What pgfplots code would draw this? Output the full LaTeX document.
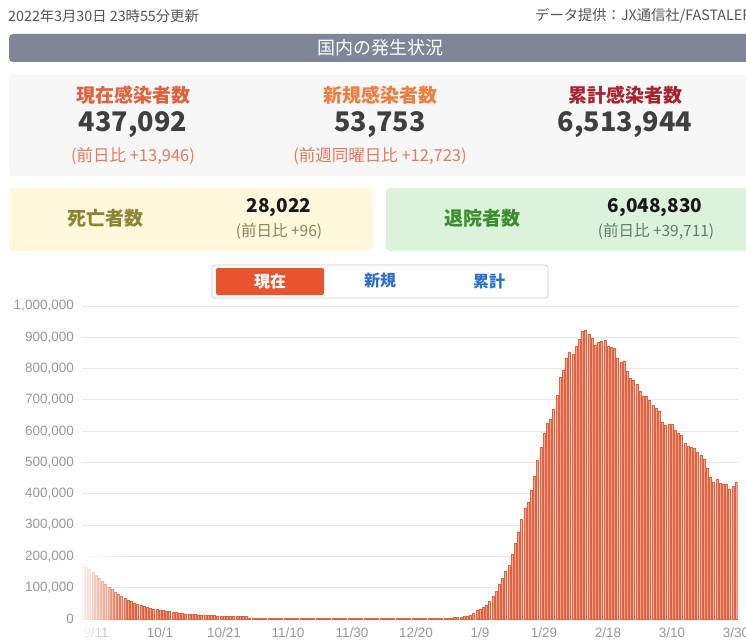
\documentclass[border=0pt]{standalone}
\usepackage{fontspec}
\usepackage{pgfplots}
\pgfplotsset{compat=1.18}
\usetikzlibrary{fadings}
\setmainfont{Liberation Sans}
\newfontfamily\jp{Noto Sans CJK JP}
\definecolor{hdr}{HTML}{555555}
\definecolor{titlebar}{HTML}{7E869A}
\definecolor{panelgray}{HTML}{F7F7F7}
\definecolor{cur}{HTML}{E2603A}
\definecolor{newc}{HTML}{EE7D3E}
\definecolor{cum}{HTML}{A8232D}
\definecolor{num}{HTML}{3F3F3F}
\definecolor{subc}{HTML}{E57A5C}
\definecolor{yel}{HTML}{FFF8DD}
\definecolor{olive}{HTML}{8C8532}
\definecolor{olivesub}{HTML}{8A8356}
\definecolor{grn}{HTML}{DDF2DB}
\definecolor{grntxt}{HTML}{3C8D2F}
\definecolor{grnsub}{HTML}{5C8060}
\definecolor{tabborder}{HTML}{CCCCCC}
\definecolor{tabred}{HTML}{E8542F}
\definecolor{tabblue}{HTML}{2A6FCB}
\definecolor{gridgray}{HTML}{E8E8E8}
\definecolor{lblgray}{HTML}{999999}
\definecolor{barfill}{HTML}{FFA588}
\definecolor{baredge}{HTML}{DE6244}
\tikzfading[name=fadeL, left color=transparent!0, right color=transparent!100]
\newcommand\fs[1]{\fontsize{#1}{#1}\selectfont}
\begin{document}
\begin{tikzpicture}[x=1pt,y=-1pt]
\useasboundingbox (0,0) rectangle (746,644);
\clip (0,0) rectangle (746,644);
\fill[white] (0,0) rectangle (746,644);
% header
\node[anchor=west, inner sep=0, text=hdr, font=\jp\fs{14.3}] at (8,16) {2022年3月30日 23時55分更新};
\node[anchor=west, inner sep=0, text=hdr, font=\jp\fs{14.3}] at (535,16) {データ提供：JX通信社/FASTALERT};
\fill[titlebar, rounded corners=4pt] (9,34) rectangle (770,62);
\node[inner sep=0, text=white, font=\jp\fs{18}] at (380,48) {国内の発生状況};
% panel 1
\fill[panelgray, rounded corners=3pt] (9,75) rectangle (770,176);
\node[inner sep=0, text=cur, font=\jp\bfseries\fs{19}] at (133,95) {現在感染者数};
\node[inner sep=0, text=newc, font=\jp\bfseries\fs{19}] at (380,95) {新規感染者数};
\node[inner sep=0, text=cum, font=\jp\bfseries\fs{19}] at (625,95) {累計感染者数};
\node[inner sep=0, text=num, font=\jp\bfseries\fs{27}] at (133,125) {437,092};
\node[inner sep=0, text=num, font=\jp\bfseries\fs{27}] at (380,125) {53,753};
\node[inner sep=0, text=num, font=\jp\bfseries\fs{27}] at (625,125) {6,513,944};
\node[inner sep=0, text=subc, font=\jp\fs{16.5}] at (133,156) {(前日比 +13,946)};
\node[inner sep=0, text=subc, font=\jp\fs{16.5}] at (380,156) {(前週同曜日比 +12,723)};
% panel 2
\fill[yel, rounded corners=4pt] (9,188) rectangle (373,251);
\fill[grn, rounded corners=4pt] (386,188) rectangle (770,251);
\node[inner sep=0, text=olive, font=\jp\bfseries\fs{19}] at (105,218) {死亡者数};
\node[inner sep=0, text=black!90, font=\jp\bfseries\fs{19}] at (279,208) {28,022};
\node[inner sep=0, text=olivesub, font=\jp\fs{15.5}] at (279,231) {(前日比 +96)};
\node[inner sep=0, text=grntxt, font=\jp\bfseries\fs{19}] at (482,218) {退院者数};
\node[inner sep=0, text=black!90, font=\jp\bfseries\fs{19}] at (655,208) {6,048,830};
\node[inner sep=0, text=grnsub, font=\jp\fs{15.5}] at (656,231) {(前日比 +39,711)};
% tabs
\draw[tabborder, line width=0.8pt, rounded corners=3pt] (212,265) rectangle (548,298);
\fill[tabred, rounded corners=2pt] (216,268) rectangle (324,295);
\node[inner sep=0, text=white, font=\jp\bfseries\fs{16}] at (270,281) {現在};
\node[inner sep=0, text=tabblue, font=\jp\bfseries\fs{16}] at (380,281) {新規};
\node[inner sep=0, text=tabblue, font=\jp\bfseries\fs{16}] at (489,281) {累計};
% chart
\begin{axis}[
  at={(81.6pt,-619pt)}, anchor=south west,
  scale only axis, width=656pt, height=313pt,
  xmin=-0.5, xmax=204.5, ymin=0, ymax=1000000,
  ybar, bar width=2.0pt, bar shift=0pt,
  axis line style={draw=none},
  ymajorgrids, grid style={gridgray, line width=0.9pt},
  major tick length=0pt,
  xtick={4,24,44,64,84,104,124,144,164,184,204},
  xticklabels={9/11,10/1,10/21,11/10,11/30,12/20,1/9,1/29,2/18,3/10,3/30},
  ytick={0,100000,200000,300000,400000,500000,600000,700000,800000,900000,1000000},
  scaled y ticks=false,
  yticklabel style={/pgf/number format/fixed, /pgf/number format/1000 sep={,}, /pgf/number format/assume math mode=true, anchor=east, inner sep=0pt, xshift=-7.6pt},
  xticklabel style={anchor=center, inner sep=0pt, yshift=-14pt},
  tick label style={font=\fs{13.5}, text=lblgray},
]
\addplot[fill=barfill, draw=baredge, line width=0.35pt] coordinates {
(0,170000)(1,165000)(2,158000)(3,150000)(4,140000)(5,130000)(6,120000)(7,111000)(8,103000)(9,95000)(10,87000)(11,80000)(12,73000)(13,67000)(14,61000)(15,56000)(16,52000)(17,48000)(18,44000)(19,41000)(20,38000)(21,35000)(22,33000)(23,31000)(24,29000)(25,27000)(26,25000)(27,23500)(28,22000)(29,20500)(30,19000)(31,18000)(32,17000)(33,16000)(34,15000)(35,14300)(36,13600)(37,13000)(38,12500)(39,12000)(40,11500)(41,11000)(42,10600)(43,10200)(44,9800)(45,9500)(46,9200)(47,8900)(48,8600)(49,8300)(50,8000)(51,7800)
(52,3600)(53,3400)(54,3200)(55,3100)(56,3000)(57,2900)(58,2800)(59,2700)(60,2600)(61,2500)(62,2450)(63,2400)(64,2350)(65,2300)(66,2250)(67,2200)(68,2150)(69,2100)(70,2050)(71,2000)(72,1950)(73,1900)(74,1850)(75,1800)(76,1750)(77,1700)(78,1700)(79,1650)(80,1600)(81,1600)(82,1550)(83,1500)(84,1500)(85,1450)(86,1450)(87,1400)(88,1400)(89,1400)(90,1350)(91,1350)(92,1350)(93,1300)(94,1300)(95,1300)(96,1300)(97,1300)(98,1300)(99,1350)(100,1400)(101,1400)(102,1450)(103,1500)(104,1500)
(105,1600)(106,1700)(107,1800)(108,1900)(109,2000)(110,2200)(111,2500)(112,2800)(113,3200)(114,3600)(115,4000)(116,4600)(117,5400)(118,6400)(119,7600)(120,9000)(121,12000)(122,19000)
(123,28000)(124,33000)(125,38000)(126,44000)(127,57000)(128,73000)(129,89000)(130,110000)(131,129000)(132,153000)(133,171000)(134,206000)(135,242000)(136,279000)(137,319000)(138,353000)(139,374000)(140,413000)(141,456000)(142,506000)(143,549000)(144,593000)(145,627000)(146,640000)(147,670000)(148,715000)(149,772000)(150,795000)(151,833000)(152,852000)(153,845000)(154,871000)(155,893000)(156,919000)(157,924000)(158,911000)(159,897000)(160,875000)(161,884000)(162,889000)(163,891000)(164,871000)(165,867000)(166,865000)(167,833000)(168,822000)(169,825000)(170,793000)(171,768000)(172,764000)(173,750000)(174,729000)(175,713000)(176,711000)(177,700000)(178,684000)(179,674000)(180,665000)(181,630000)(182,620000)(183,622000)(184,623000)(185,604000)(186,595000)(187,587000)(188,561000)(189,552000)(190,550000)(191,547000)(192,534000)(193,522000)(194,512000)(195,483000)(196,453000)(197,437000)(198,448000)(199,434000)(200,432000)(201,432000)(202,416000)(203,423146)(204,437092)
};
\end{axis}
\fill[white, path fading=fadeL] (78,545) rectangle (128,644);
\end{tikzpicture}
\end{document}
